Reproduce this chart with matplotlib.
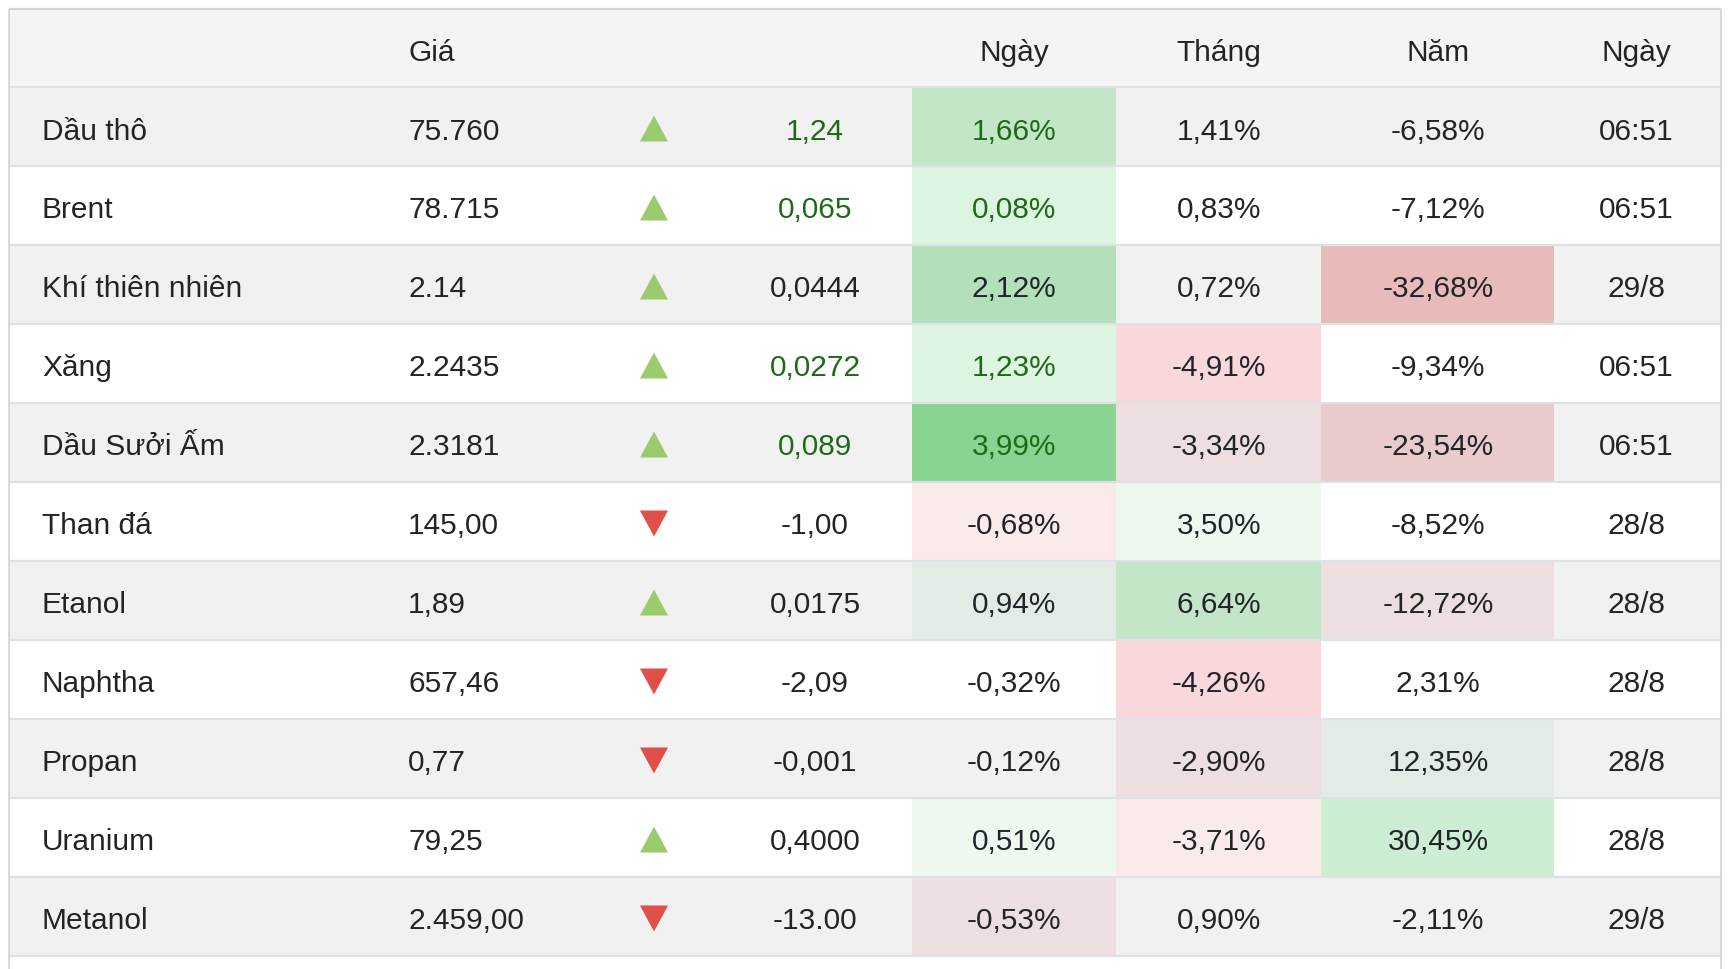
#!/usr/bin/env python3
"""Commodity price table (energy) drawn with matplotlib."""

import matplotlib
matplotlib.use("Agg")
import matplotlib.pyplot as plt  # noqa: E402
from matplotlib.patches import Polygon, Rectangle  # noqa: E402

plt.rcParams["font.family"] = ["Liberation Sans", "DejaVu Sans"]

# --- data -----------------------------------------------------------------
headers = ["", "Giá", "", "", "Ngày", "Tháng", "Năm", "Ngày"]
names = ["Dầu thô", "Brent", "Khí thiên nhiên", "Xăng", "Dầu Sưởi Ấm",
         "Than đá", "Etanol", "Naphtha", "Propan", "Uranium", "Metanol"]
prices = ["75.760", "78.715", "2.14", "2.2435", "2.3181", "145,00", "1,89",
          "657,46", "0,77", "79,25", "2.459,00"]
direction = [1, 1, 1, 1, 1, -1, 1, -1, -1, 1, -1]
changes = ["1,24", "0,065", "0,0444", "0,0272", "0,089", "-1,00", "0,0175",
           "-2,09", "-0,001", "0,4000", "-13.00"]
day_pct = ["1,66%", "0,08%", "2,12%", "1,23%", "3,99%", "-0,68%", "0,94%",
           "-0,32%", "-0,12%", "0,51%", "-0,53%"]
month_pct = ["1,41%", "0,83%", "0,72%", "-4,91%", "-3,34%", "3,50%", "6,64%",
             "-4,26%", "-2,90%", "-3,71%", "0,90%"]
year_pct = ["-6,58%", "-7,12%", "-32,68%", "-9,34%", "-23,54%", "-8,52%",
            "-12,72%", "2,31%", "12,35%", "30,45%", "-2,11%"]
times = ["06:51", "06:51", "29/8", "06:51", "06:51", "28/8", "28/8", "28/8",
         "28/8", "28/8", "29/8"]
green_text = [True, True, False, True, True, False, False, False, False,
              False, False]

# heat colours of the three percentage columns (None = row background)
day_bg = ["#c3e5c8", "#dcf5e0", "#b3e0bb", "#ddf5e1", "#8bd393", "#fbeaea",
          "#e2ece4", None, None, "#eef8ef", "#eddfdf"]
month_bg = [None, None, None, "#f8d8da", "#eddfdf", "#eef8ef", "#c3e5c8",
            "#f8d8da", "#eddfdf", "#fbeaea", None]
year_bg = [None, None, "#e8baba", None, "#eacbcc", None, "#eddfdf", None,
           "#e2ece4", "#ccefd3", None]

# --- layout (pixels) --------------------------------------------------------
W, H = 1734, 970
LEFT, RIGHT, TOP = 9, 1721, 10
HEAD_BOT, ROW_H = 88, 79
col_edges = {"day": (912, 1116), "month": (1116, 1321), "year": (1321, 1554)}
x_name, x_price, x_tri, x_chg = 42, 408, 654, 815
x_day, x_month, x_year, x_time = 1014, 1219, 1438, 1636
head_x = [None, x_price, None, None, x_day, x_month, x_year, x_time]

TXT = "#212529"
GREEN_TXT = "#1e6b16"
UP, DOWN = "#9ccb6e", "#e04f48"
FS = 21.5
DY = 4  # matplotlib centres on the full text box, nudge down

fig = plt.figure(figsize=(W / 100, H / 100), dpi=100)
ax = fig.add_axes([0, 0, 1, 1])
ax.set_xlim(0, W)
ax.set_ylim(H, 0)
ax.axis("off")

# header
ax.add_patch(Rectangle((LEFT, TOP), RIGHT - LEFT, HEAD_BOT - TOP,
                       color="#f4f4f4", lw=0))
hy = (TOP + HEAD_BOT) / 2 + DY
for label, x in zip(headers, head_x):
    if not label:
        continue
    ha = "left" if x == x_price else "center"
    ax.text(x, hy, label, ha=ha, va="center", fontsize=FS, color=TXT)

for i in range(len(names)):
    y0 = HEAD_BOT + i * ROW_H
    yc = y0 + ROW_H / 2
    yt = yc + DY
    bg = "#f1f1f1" if i % 2 == 0 else "white"
    ax.add_patch(Rectangle((LEFT, y0), RIGHT - LEFT, ROW_H, color=bg, lw=0))
    for key, cols in (("day", day_bg), ("month", month_bg), ("year", year_bg)):
        if cols[i]:
            xa, xb = col_edges[key]
            ax.add_patch(Rectangle((xa, y0), xb - xa, ROW_H, color=cols[i],
                                   lw=0))

    ax.text(x_name, yt, names[i], ha="left", va="center", fontsize=FS,
            color=TXT)
    ax.text(x_price, yt, prices[i], ha="left", va="center", fontsize=FS,
            color=TXT)

    # arrow triangle
    hw, hh = 14, 13
    ty = yc + 2
    if direction[i] > 0:
        pts = [(x_tri - hw, ty + hh), (x_tri + hw, ty + hh), (x_tri, ty - hh)]
        col = UP
    else:
        pts = [(x_tri - hw, ty - hh), (x_tri + hw, ty - hh), (x_tri, ty + hh)]
        col = DOWN
    ax.add_patch(Polygon(pts, closed=True, color=col, lw=0))

    c = GREEN_TXT if green_text[i] else TXT
    ax.text(x_chg, yt, changes[i], ha="center", va="center", fontsize=FS,
            color=c)
    ax.text(x_day, yt, day_pct[i], ha="center", va="center", fontsize=FS,
            color=c)
    ax.text(x_month, yt, month_pct[i], ha="center", va="center", fontsize=FS,
            color=TXT)
    ax.text(x_year, yt, year_pct[i], ha="center", va="center", fontsize=FS,
            color=TXT)
    ax.text(x_time, yt, times[i], ha="center", va="center", fontsize=FS,
            color=TXT)

# grid lines and borders
n = len(names)
for i in range(n + 1):
    y = HEAD_BOT + i * ROW_H
    ax.plot([LEFT, RIGHT], [y, y], color="#dee2e6", lw=1.6,
            solid_capstyle="butt")
ax.plot([LEFT, RIGHT], [TOP, TOP], color="#d3d3d3", lw=1.6,
        solid_capstyle="butt")
for x in (LEFT, RIGHT):
    ax.plot([x, x], [TOP, H], color="#d3d3d3", lw=1.2, solid_capstyle="butt")

fig.savefig("out.png", dpi=100, facecolor="white")
